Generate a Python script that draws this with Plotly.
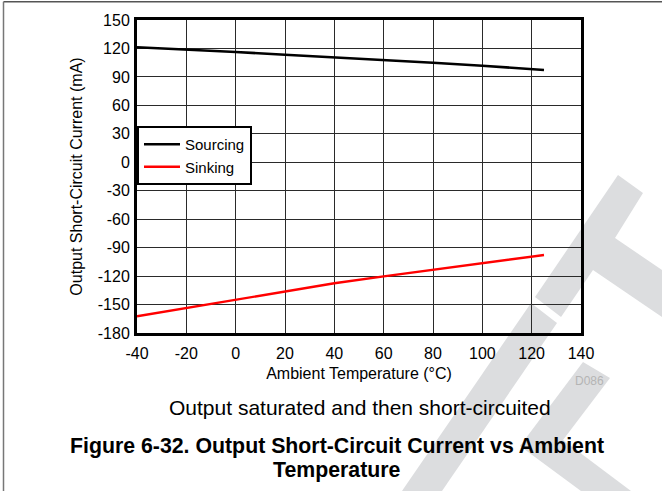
import plotly.graph_objects as go

# Ambient temperature (°C) and measured short-circuit current (mA)
temperature = [-40, -20, 0, 20, 40, 60, 80, 100, 125]
sourcing_ma = [121.2, 119.1, 116.3, 113.4, 110.8, 108.2, 105.0, 101.8, 97.3]
sinking_ma = [-162.4, -153.6, -144.9, -136.0, -127.6, -120.3, -113.6, -106.5, -97.8]

x_ticks = [-40, -20, 0, 20, 40, 60, 80, 100, 120, 140]
y_ticks = [-180, -150, -120, -90, -60, -30, 0, 30, 60, 90, 120, 150]
# tick labels printed with a plain hyphen for negatives
x_tick_labels = [str(v) for v in x_ticks]
y_tick_labels = [str(v) for v in y_ticks]

W, H = 662, 491
ML, MR, MT, MB = 137, 81, 20, 158
PW, PH = W - ML - MR, H - MT - MB

FONT = "Liberation Sans, Arial, sans-serif"


def px(x, y):
    """Convert page pixel coordinates to paper coordinates."""
    return (x - ML) / PW, (H - MB - y) / PH


fig = go.Figure()
fig.add_trace(go.Scatter(x=temperature, y=sourcing_ma, mode="lines", name="Sourcing",
                         line=dict(color="#000000", width=2.6)))
fig.add_trace(go.Scatter(x=temperature, y=sinking_ma, mode="lines", name="Sinking",
                         line=dict(color="#ff0000", width=2.4)))

axis_common = dict(
    showline=True, mirror=True, linecolor="#000000", linewidth=3,
    showgrid=True, gridcolor="#2a2a2a", gridwidth=1.3, zeroline=False,
    ticks="", tickfont=dict(family=FONT, size=16, color="#000000"),
    title_font=dict(family=FONT, size=16, color="#000000"),
)

fig.update_xaxes(range=[-40, 140], tickvals=x_ticks, ticktext=x_tick_labels,
                 ticklabelstandoff=4,
                 title_text="Ambient Temperature (°C)", title_standoff=7,
                 **axis_common)
fig.update_yaxes(range=[-180, 150], tickvals=y_ticks, ticktext=y_tick_labels,
                 ticklabelstandoff=1,
                 title_text="Output Short-Circuit Current (mA)", title_standoff=12,
                 **axis_common)

# light background watermark
wm_color = "#dcdddf"
watermark = [
    [(618, 175), (643, 193), (615, 238), (662, 270), (662, 317), (593, 270),
     (561, 317), (535, 297)],
    [(531, 303), (557, 323), (442, 491), (402, 491)],
    [(583, 362), (610, 378), (563, 440), (631, 491), (581, 491), (520, 446)],
]
shapes = []
for poly in watermark:
    pts = [px(*p) for p in poly]
    path = "M " + " L ".join(f"{a:.4f},{b:.4f}" for a, b in pts) + " Z"
    shapes.append(dict(type="path", path=path, xref="paper", yref="paper",
                       fillcolor=wm_color, line=dict(width=0), layer="below"))

# page frame lines
fx0, fy0 = px(3.5, 1.7)
fx1, fy1 = px(662, 491)
shapes.append(dict(type="line", xref="paper", yref="paper", x0=fx0, y0=fy0, x1=fx1, y1=fy0,
                   line=dict(color="#555555", width=1.5)))
shapes.append(dict(type="line", xref="paper", yref="paper", x0=fx0, y0=fy0, x1=fx0, y1=fy1,
                   line=dict(color="#777777", width=1.5)))

annotations = []
ax, ay = px(606, 381)
annotations.append(dict(text="D086", x=ax, y=ay, xref="paper", yref="paper",
                        xanchor="right", yanchor="middle", showarrow=False,
                        font=dict(family=FONT, size=12, color="#b4b4b4")))
ax, ay = px(359.5, 407)
annotations.append(dict(text="Output saturated and then short-circuited", x=ax, y=ay,
                        xref="paper", yref="paper", xanchor="center", yanchor="middle",
                        showarrow=False, font=dict(family=FONT, size=21, color="#000000")))
ax, ay = px(336.5, 446.5)
annotations.append(dict(text="<b>Figure 6-32. Output Short-Circuit Current vs Ambient</b>",
                        x=ax, y=ay, xref="paper", yref="paper", xanchor="center",
                        yanchor="middle", showarrow=False,
                        font=dict(family=FONT, size=21.3, color="#000000")))
ax, ay = px(337, 470)
annotations.append(dict(text="<b>Temperature</b>", x=ax, y=ay, xref="paper", yref="paper",
                        xanchor="center", yanchor="middle", showarrow=False,
                        font=dict(family=FONT, size=21.3, color="#000000")))

lx, ly = px(137, 126)
fig.update_layout(
    width=W, height=H,
    margin=dict(l=ML, r=MR, t=MT, b=MB, pad=0),
    paper_bgcolor="#ffffff", plot_bgcolor="rgba(0,0,0,0)",
    font=dict(family=FONT, color="#000000"),
    showlegend=True,
    legend=dict(x=lx, y=ly, xanchor="left", yanchor="top",
                bgcolor="#ffffff", bordercolor="#000000", borderwidth=2,
                font=dict(family=FONT, size=15, color="#000000"),
                itemwidth=36, tracegroupgap=0),
    shapes=shapes,
    annotations=annotations,
)

fig.write_html("out.html")
